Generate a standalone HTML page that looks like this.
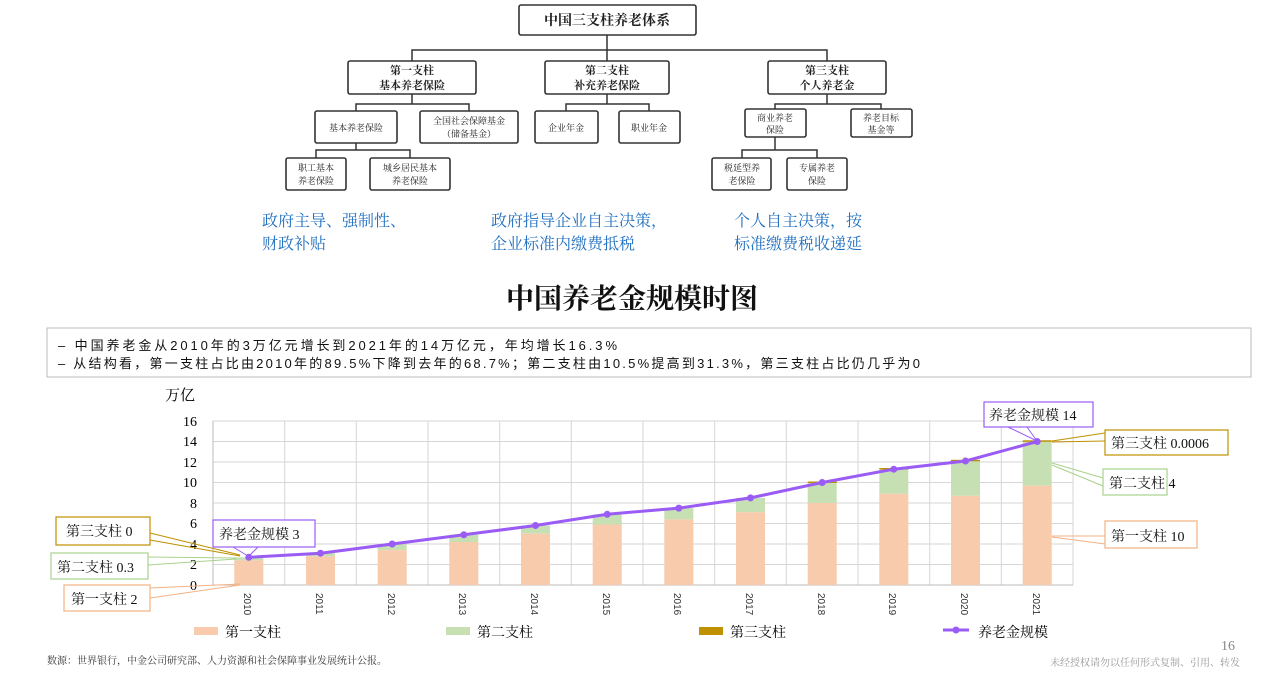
<!DOCTYPE html>
<html><head><meta charset="utf-8"><style>
body{margin:0;background:#fff;width:1266px;height:673px;overflow:hidden}
svg{display:block}
text{font-family:"Liberation Serif","Noto Serif CJK SC",serif}
.s text, text.s{font-family:"Liberation Sans","Noto Sans CJK SC",sans-serif}
</style></head><body>
<svg width="1266" height="673" viewBox="0 0 1266 673" xmlns="http://www.w3.org/2000/svg">
<g stroke="#333" stroke-width="1.5" fill="none">
<path d="M607 35V50M412 61V50H827V61M607 50V61"/>
<path d="M412 94V104H356V111M412 104H469V111"/>
<path d="M607 94V104H566V111M607 104H649V111"/>
<path d="M827 94V104H775V111M827 104H881V111"/>
<path d="M356 143V150H316V158M356 150H410V158"/>
<path d="M775 137V150H742V158M775 150H817V158"/>
</g>
<g stroke="#333" stroke-width="1.6" fill="#fff">
<rect x="519" y="5" width="177" height="30" rx="2"/>
<rect x="348" y="61" width="128" height="33" rx="2"/>
<rect x="545" y="61" width="124" height="33" rx="2"/>
<rect x="768" y="61" width="118" height="33" rx="2"/>
<rect x="315" y="111" width="82" height="32" rx="2"/>
<rect x="420" y="111" width="98" height="32" rx="2"/>
<rect x="535" y="111" width="63" height="32" rx="2"/>
<rect x="619" y="111" width="61" height="32" rx="2"/>
<rect x="745" y="109" width="61" height="28" rx="2"/>
<rect x="851" y="109" width="61" height="28" rx="2"/>
<rect x="286" y="158" width="60" height="32" rx="2"/>
<rect x="370" y="158" width="80" height="32" rx="2"/>
<rect x="712" y="158" width="59" height="32" rx="2"/>
<rect x="787" y="158" width="60" height="32" rx="2"/>
</g>
<g font-size="11" text-anchor="middle" fill="#222" font-weight="bold">
<text x="607" y="25" font-size="14">中国三支柱养老体系</text>
<text x="412" y="74">第一支柱</text><text x="412" y="89">基本养老保险</text>
<text x="607" y="74">第二支柱</text><text x="607" y="89">补充养老保险</text>
<text x="827" y="74">第三支柱</text><text x="827" y="89">个人养老金</text>
<g font-size="9" font-weight="normal">
<text x="356" y="131">基本养老保险</text>
<text x="469" y="124">全国社会保障基金</text><text x="469" y="137">（储备基金）</text>
<text x="566" y="131">企业年金</text>
<text x="649" y="131">职业年金</text>
<text x="775" y="121">商业养老</text><text x="775" y="133">保险</text>
<text x="881" y="121">养老目标</text><text x="881" y="133">基金等</text>
<text x="316" y="171">职工基本</text><text x="316" y="184">养老保险</text>
<text x="410" y="171">城乡居民基本</text><text x="410" y="184">养老保险</text>
<text x="742" y="171">税延型养</text><text x="742" y="184">老保险</text>
<text x="817" y="171">专属养老</text><text x="817" y="184">保险</text>
</g></g>
<g font-size="16" fill="#1f6fc0">
<text x="262" y="226">政府主导、强制性、</text><text x="262" y="249">财政补贴</text>
<text x="491" y="226">政府指导企业自主决策，</text><text x="491" y="249">企业标准内缴费抵税</text>
<text x="734" y="226">个人自主决策，按</text><text x="734" y="249">标准缴费税收递延</text>
</g>
<text x="632" y="308" font-size="28" text-anchor="middle" fill="#111" font-weight="bold">中国养老金规模时图</text>
<rect x="47" y="328" width="1204" height="49" fill="#fff" stroke="#bbb"/>
<g class="s" font-size="13" fill="#111">
<text x="58" y="350" textLength="559" lengthAdjust="spacing">–  中国养老金从2010年的3万亿元增长到2021年的14万亿元，年均增长16.3%</text>
<text x="58" y="368" textLength="862" lengthAdjust="spacing">–  从结构看，第一支柱占比由2010年的89.5%下降到去年的68.7%；第二支柱由10.5%提高到31.3%，第三支柱占比仍几乎为0</text>
</g>
<text x="165" y="400" font-size="15">万亿</text>
<g stroke="#d6d6d6" stroke-width="1" fill="none">
<path d="M213 421H1073M213 441.5H1073M213 462H1073M213 482.5H1073M213 503H1073M213 523.5H1073M213 544H1073M213 564.5H1073"/>
<path d="M284.7 421V585M356.3 421V585M428 421V585M499.7 421V585M571.3 421V585M643 421V585M714.7 421V585M786.3 421V585M858 421V585M929.7 421V585M1001.3 421V585M1073 421V585"/>
<path d="M213 421V585H1073" stroke="#bbb"/>
</g>
<g font-size="14" text-anchor="end">
<text x="197" y="426">16</text><text x="197" y="446">14</text><text x="197" y="467">12</text><text x="197" y="487">10</text><text x="197" y="508">8</text><text x="197" y="528">6</text><text x="197" y="549">4</text><text x="197" y="569">2</text><text x="197" y="590">0</text>
</g>
<g fill="#c6e0b4">
<rect x="234.3" y="557.3" width="29" height="3.1"/><rect x="306" y="553.2" width="29" height="3.1"/>
<rect x="377.7" y="544" width="29" height="6.1"/><rect x="449.3" y="534.8" width="29" height="7.2"/>
<rect x="521" y="525.5" width="29" height="8.2"/><rect x="592.7" y="514.3" width="29" height="10.2"/>
<rect x="664.3" y="508.1" width="29" height="11.3"/><rect x="736" y="497.9" width="29" height="14.3"/>
<rect x="807.7" y="482.5" width="29" height="20.5"/><rect x="879.3" y="469.2" width="29" height="24.6"/>
<rect x="951" y="461" width="29" height="34.8"/><rect x="1022.7" y="441.5" width="29" height="44.1"/>
</g>
<g fill="#f8cbad">
<rect x="234.3" y="560.4" width="29" height="24.6"/><rect x="306" y="556.3" width="29" height="28.7"/>
<rect x="377.7" y="550.1" width="29" height="34.9"/><rect x="449.3" y="542" width="29" height="43"/>
<rect x="521" y="533.7" width="29" height="51.3"/><rect x="592.7" y="524.5" width="29" height="60.5"/>
<rect x="664.3" y="519.4" width="29" height="65.6"/><rect x="736" y="512.2" width="29" height="72.8"/>
<rect x="807.7" y="503" width="29" height="82"/><rect x="879.3" y="493.8" width="29" height="91.2"/>
<rect x="951" y="495.8" width="29" height="89.2"/><rect x="1022.7" y="485.6" width="29" height="99.4"/>
</g>
<g fill="#bf9000"><rect x="807.7" y="481.5" width="29" height="1.5"/><rect x="879.3" y="468" width="29" height="1.5"/><rect x="951" y="459.8" width="29" height="1.5"/><rect x="1022.7" y="440.3" width="29" height="1.5"/></g>
<polyline fill="none" stroke="#9a5cf5" stroke-width="3" points="248.8,557.3 320.5,553.2 392.2,544 463.8,534.8 535.5,525.5 607.2,514.3 678.8,508.1 750.5,497.9 822.2,482.5 893.8,469.2 965.5,461 1037.2,441.5"/>
<g fill="#9a5cf5"><circle cx="248.8" cy="557.3" r="3.5"/><circle cx="320.5" cy="553.2" r="3.5"/><circle cx="392.2" cy="544" r="3.5"/><circle cx="463.8" cy="534.8" r="3.5"/><circle cx="535.5" cy="525.5" r="3.5"/><circle cx="607.2" cy="514.3" r="3.5"/><circle cx="678.8" cy="508.1" r="3.5"/><circle cx="750.5" cy="497.9" r="3.5"/><circle cx="822.2" cy="482.5" r="3.5"/><circle cx="893.8" cy="469.2" r="3.5"/><circle cx="965.5" cy="461" r="3.5"/><circle cx="1037.2" cy="441.5" r="3.5"/></g>
<g class="s" font-size="10" fill="#333">
<text transform="translate(244,593) rotate(90)">2010</text><text transform="translate(316,593) rotate(90)">2011</text><text transform="translate(388,593) rotate(90)">2012</text><text transform="translate(459,593) rotate(90)">2013</text><text transform="translate(531,593) rotate(90)">2014</text><text transform="translate(603,593) rotate(90)">2015</text><text transform="translate(674,593) rotate(90)">2016</text><text transform="translate(746,593) rotate(90)">2017</text><text transform="translate(818,593) rotate(90)">2018</text><text transform="translate(889,593) rotate(90)">2019</text><text transform="translate(961,593) rotate(90)">2020</text><text transform="translate(1033,593) rotate(90)">2021</text>
</g>
<rect x="194" y="627" width="24" height="8" fill="#f8cbad"/><text x="225" y="637" font-size="14">第一支柱</text>
<rect x="446" y="627" width="24" height="8" fill="#c6e0b4"/><text x="477" y="637" font-size="14">第二支柱</text>
<rect x="699" y="627" width="24" height="8" fill="#bf9000"/><text x="730" y="637" font-size="14">第三支柱</text>
<path d="M943 630H969" stroke="#9a5cf5" stroke-width="3"/><circle cx="956" cy="630" r="3.5" fill="#9a5cf5"/><text x="978" y="637" font-size="14">养老金规模</text>
<g fill="none" stroke-width="1">
<path d="M150 533L240 555M150 540L240 556" stroke="#bf9000"/>
<path d="M148 557L236 558M148 565L236 559" stroke="#a9d18e"/>
<path d="M150 588L240 584M150 598L240 585" stroke="#f4b183"/>
<path d="M233 547L248 556M258 547L249 556" stroke="#9a5cf5"/>
<path d="M1008 427L1037 441M1027 427L1037 441" stroke="#9a5cf5"/>
<path d="M1105 433L1052 441M1105 441L1052 442" stroke="#bf9000"/>
<path d="M1103 478L1052 463M1103 486L1052 465" stroke="#a9d18e"/>
<path d="M1105 536L1052 536M1105 544L1052 537" stroke="#f4b183"/>
</g>
<g fill="#fff" stroke-width="1.2">
<rect x="56" y="517" width="94" height="28" stroke="#bf9000"/>
<rect x="51" y="553" width="97" height="26" stroke="#a9d18e"/>
<rect x="64" y="585" width="86" height="26" stroke="#f4b183"/>
<rect x="213" y="520" width="102" height="27" stroke="#9a5cf5"/>
<rect x="984" y="402" width="109" height="25" stroke="#9a5cf5"/>
<rect x="1105" y="430" width="123" height="25" stroke="#bf9000"/>
<rect x="1103" y="469" width="64" height="26" stroke="#a9d18e"/>
<rect x="1105" y="521" width="92" height="27" stroke="#f4b183"/>
</g>
<g font-size="14" fill="#111">
<text x="66" y="536">第三支柱 0</text>
<text x="57" y="572">第二支柱 0.3</text>
<text x="71" y="604">第一支柱 2</text>
<text x="219" y="539">养老金规模 3</text>
<text x="989" y="420">养老金规模 14</text>
<text x="1111" y="448">第三支柱 0.0006</text>
<text x="1109" y="488">第二支柱 4</text>
<text x="1111" y="541">第一支柱 10</text>
</g>
<text x="47" y="664" font-size="10" fill="#333">数源：世界银行，中金公司研究部、人力资源和社会保障事业发展统计公报。</text>
<text x="1235" y="650" font-size="14" fill="#888" text-anchor="end">16</text>
<text x="1240" y="666" font-size="10" fill="#999" text-anchor="end">未经授权请勿以任何形式复制、引用、转发</text>
</svg>
</body></html>
